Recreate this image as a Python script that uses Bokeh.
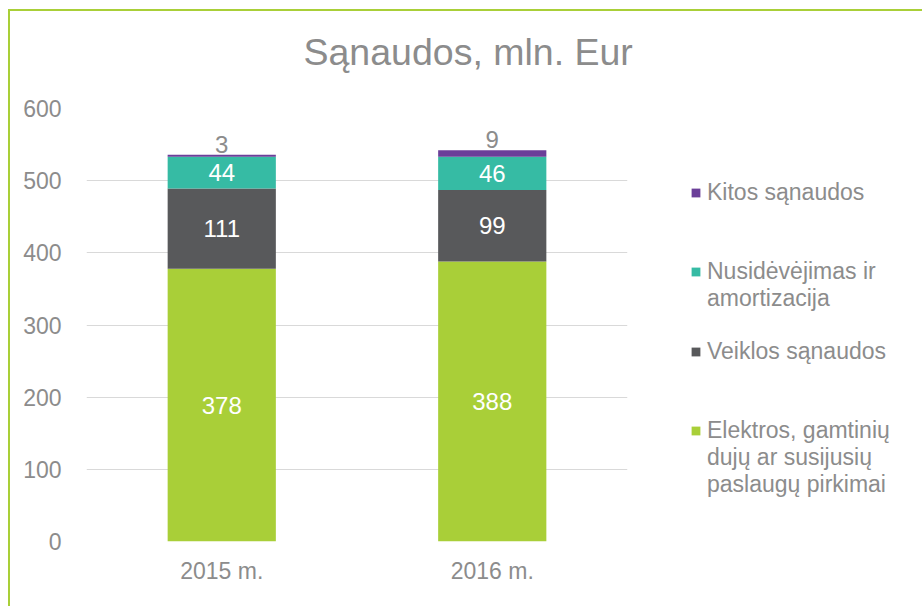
from bokeh.plotting import figure
from bokeh.models import (ColumnDataSource, FactorRange, Range1d, LabelSet,
                          Legend, LegendItem, FixedTicker)
from bokeh.core.properties import value
from bokeh.embed import file_html
from bokeh.resources import INLINE

# ---- data ----
years = ["2015 m.", "2016 m."]
elektros = [378, 388]
veiklos = [111, 99]
nusidevejimas = [44, 46]
kitos = [3, 9]

series_keys = ["elektros", "veiklos", "nusidevejimas", "kitos"]
series_names = [["Elektros, gamtinių", "dujų ar susijusių", "paslaugų pirkimai"],
                ["Veiklos sąnaudos"],
                ["Nusidėvėjimas ir", "amortizacija"],
                ["Kitos sąnaudos"]]
colors = ["#A9CF38", "#58595B", "#36BBA4", "#6B3F99"]
y_ticks = [0, 100, 200, 300, 400, 500, 600]
title_text = "Sąnaudos, mln. Eur"

FONT = "Liberation Sans"
GREY = "#8C8C8C"

data = dict(year=years, elektros=elektros, veiklos=veiklos,
            nusidevejimas=nusidevejimas, kitos=kitos)
source = ColumnDataSource(data)

p = figure(x_range=FactorRange(*years, range_padding=0), y_range=Range1d(0, 600),
           frame_width=541, frame_height=433, output_backend="svg", toolbar_location=None,
           min_border_left=76, min_border_right=0, min_border_top=97,
           min_border_bottom=65)
p.styles = {"border-left": "2px solid #A9CF38", "border-top": "2px solid #A9CF38",
            "margin-left": "8px", "margin-top": "9px"}
p.outline_line_color = None
p.background_fill_color = "white"
p.border_fill_color = "white"

renderers = p.vbar_stack(series_keys, x="year", width=0.4, color=colors,
                         line_color=None, source=source)

# title (second, blank line lifts the visible line above the panel bottom)
p.title.text = title_text + "\n "
p.title.align = "left"
p.title.offset = 217
p.title.standoff = 0
p.title.text_font = FONT
p.title.text_font_size = "37.5px"
p.title.text_font_style = "normal"
p.title.text_color = GREY
p.title.text_line_height = 0.85

# axes
p.yaxis.ticker = FixedTicker(ticks=y_ticks)
for ax in (p.xaxis[0], p.yaxis[0]):
    ax.axis_line_color = None
    ax.major_tick_line_color = None
    ax.minor_tick_line_color = None
    ax.major_label_text_font = FONT
    ax.major_label_text_font_size = "23px"
    ax.major_label_text_color = GREY
p.yaxis.major_label_standoff = 19
p.xaxis.major_label_standoff = 10
p.xgrid.grid_line_color = None
p.ygrid.grid_line_color = "#D9D9D9"
p.ygrid.grid_line_width = 1

# data labels
cum = [0, 0]
for i, key in enumerate(series_keys):
    vals = data[key]
    if key == "kitos":
        ys = [c + v for c, v in zip(cum, vals)]
        lsrc = ColumnDataSource(dict(x=years, y=ys, t=[str(v) for v in vals]))
        p.add_layout(LabelSet(x="x", y="y", text="t", source=lsrc, text_align="center",
                              text_baseline="alphabetic", y_offset=2,
                              text_font=value(FONT), text_font_size="24px",
                              text_color=GREY))
    else:
        ys = [c + v / 2 for c, v in zip(cum, vals)]
        lsrc = ColumnDataSource(dict(x=years, y=ys, t=[str(v) for v in vals]))
        p.add_layout(LabelSet(x="x", y="y", text="t", source=lsrc, text_align="center",
                              text_baseline="middle",
                              text_font=value(FONT), text_font_size="24px",
                              text_color="white"))
    cum = [c + v for c, v in zip(cum, vals)]

# legend: one row per text line; continuation / gap rows use an invisible glyph
blank = p.vbar(x=[], top=[], width=0.4, fill_alpha=0, line_alpha=0)
rows = []
for k, i in enumerate((3, 2, 1, 0)):
    lines = series_names[i]
    rows.append(LegendItem(label=lines[0], renderers=[renderers[i]]))
    for ln in lines[1:]:
        rows.append(LegendItem(label=ln, renderers=[blank]))
    if k < 3:
        for _ in range(3 - len(lines)):
            rows.append(LegendItem(label=" ", renderers=[blank]))

legend = Legend(items=rows, location=(63, 43), border_line_color=None,
                background_fill_alpha=0, label_text_font=FONT,
                label_text_font_size="23px", label_text_color=GREY,
                glyph_width=11, glyph_height=11, label_standoff=6,
                label_height=26, spacing=0, padding=0, margin=0)
p.add_layout(legend, "right")

open("out.html", "w").write(file_html(p, INLINE))
